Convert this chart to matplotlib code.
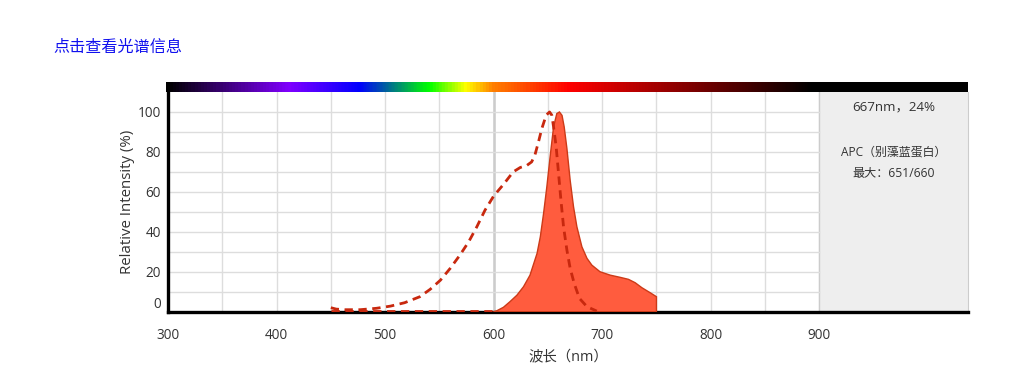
import numpy as np
import matplotlib
matplotlib.use('Agg')
import matplotlib.pyplot as plt
from matplotlib.colors import LinearSegmentedColormap

plt.rcParams['font.family'] = ['Open Sans', 'Noto Sans CJK SC', 'DejaVu Sans']

# excitation spectrum (dashed)
ex_wl = [450, 455, 463, 477, 492, 505, 518, 532, 541.5, 551, 560, 569, 577, 584.5,
         592, 600, 609, 618, 624.5, 630.5, 635, 638, 641.3, 644.4, 648.4, 651.5,
         653.6, 655.2, 657.6, 659.8, 662, 664.4, 667.5, 670.5, 674.2, 679, 686, 695]
ex_val = [2.0, 1.3, 1.0, 1.0, 1.7, 2.8, 4.5, 7.5, 11.2, 15.8, 21.7, 28.4, 35.0, 42.5,
          50.8, 57.9, 63.7, 70.0, 72.2, 73.2, 75.0, 78.4, 85.0, 91.7, 98.4, 100.0,
          98.4, 92.5, 82.5, 69.2, 55.8, 42.5, 30.8, 21.7, 14.2, 6.7, 2.5, 0.3]

# emission spectrum (filled)
em_wl = [450, 500, 550, 600, 603, 609, 615, 621.5, 627.5, 633.5, 640, 643, 646, 649,
         652, 655.2, 658.2, 660.6, 663, 665, 667.5, 670.5, 673.6, 676.7, 681.3, 686,
         690.5, 698, 707.4, 716.6, 724.2, 730.4, 736.6, 744.2, 750]
em_val = [0, 0, 0, 0, 0.5, 2.2, 5.0, 8.3, 12.5, 18.3, 29.2, 37.5, 49.2, 62.5,
          77.5, 92.5, 99.2, 100.0, 98.3, 92.5, 81.7, 65.8, 52.5, 42.5, 32.5, 26.7,
          23.3, 20.0, 18.3, 17.2, 16.2, 14.5, 12.0, 9.5, 7.5]

# visible spectrum colour bar stops (nm, colour)
spec_nm = [300, 412, 477, 541, 575, 600, 670, 895, 1037]
spec_col = ['#000000', '#8000ff', '#0000ff', '#00ff00', '#ffff00', '#ff8000',
            '#ff0000', '#000000', '#000000']

x_ticks = [300, 400, 500, 600, 700, 800, 900]
y_ticks = [0, 20, 40, 60, 80, 100]
x_min, x_max = 300, 1037
panel_start = 900

fig = plt.figure(figsize=(10.2, 3.81), dpi=100)
ax = fig.add_axes([168 / 1020, 69.3 / 381, 800 / 1020, 219.7 / 381])

ax.set_xlim(x_min, x_max)
ax.set_ylim(0, 110)

# grey info panel
ax.axvspan(panel_start, x_max, color='#eeeeee', zorder=0)
ax.axvline(panel_start, color='#cccccc', lw=1, zorder=1)

# grid
for gx in np.arange(350, panel_start, 50):
    ax.axvline(gx, color='#dddddd', lw=1, zorder=1)
ax.axvline(600, color='#cccccc', lw=1.8, zorder=1)
for gy in np.arange(10, 110, 10):
    ax.plot([x_min, panel_start], [gy, gy], color='#dddddd', lw=1, zorder=1)

# emission
em_wl_a = np.array(em_wl)
em_val_a = np.array(em_val)
fill_mask = em_wl_a >= 600
fx = em_wl_a[fill_mask]
fy = em_val_a[fill_mask]
ax.fill(np.r_[fx, fx[-1], fx[0]], np.r_[fy, 0, 0], facecolor='#ff5c3e',
        edgecolor='#cc3a18', lw=1, zorder=3)
zero_mask = em_wl_a <= 600
ax.plot(em_wl_a[zero_mask], em_val_a[zero_mask] + 0.6, color='#c8280e', lw=2,
        ls=(0, (3, 2)), zorder=4)

# excitation
ax.plot(ex_wl, ex_val, color='#c8280e', lw=2, ls=(0, (3, 2)), zorder=4)

ax.spines['top'].set_visible(False)
ax.spines['right'].set_color('#cccccc')
ax.spines['left'].set_linewidth(2.4)
ax.spines['bottom'].set_linewidth(2.4)
ax.spines['left'].set_color('black')
ax.spines['bottom'].set_color('black')

ax.set_xticks(x_ticks)
ax.set_yticks(y_ticks)
ax.tick_params(axis='both', length=0, labelsize=9.8, colors='#333333')
ax.tick_params(axis='x', pad=12)
ax.tick_params(axis='y', pad=5)
for lbl in ax.get_yticklabels():
    if lbl.get_text() == '0':
        lbl.set_va('bottom')

ax.set_xlabel('波长（nm）', fontsize=10.4, color='#333333', labelpad=5)
ax.set_ylabel('Relative Intensity (%)', fontsize=10.8, color='#333333', labelpad=2)

# panel text
mid = (panel_start + x_max) / 2
ax.text(mid, 102.5, '667nm，24%', ha='center', va='center', fontsize=9.6, color='#333333')
ax.text(mid, 80, 'APC（别藻蓝蛋白）', ha='center', va='center', fontsize=8.6, color='#333333')
ax.text(mid, 69.3, '最大：651/660', ha='center', va='center', fontsize=8.7, color='#333333')

# spectrum colour bar
cax = fig.add_axes([166 / 1020, (381 - 92) / 381, 802 / 1020, 10 / 381])
cmap = LinearSegmentedColormap.from_list(
    'spec', [((n - x_min) / (x_max - x_min), c) for n, c in zip(spec_nm, spec_col)])
cax.imshow(np.linspace(0, 1, 800)[None, :], cmap=cmap, aspect='auto',
           extent=[x_min, x_max, 0, 1])
cax.set_axis_off()

fig.text(53 / 1020, 1 - 48 / 381, '点击查看光谱信息', fontsize=11.6, color='#1010ee',
         ha='left', va='center')

fig.savefig('out.png', dpi=100)
